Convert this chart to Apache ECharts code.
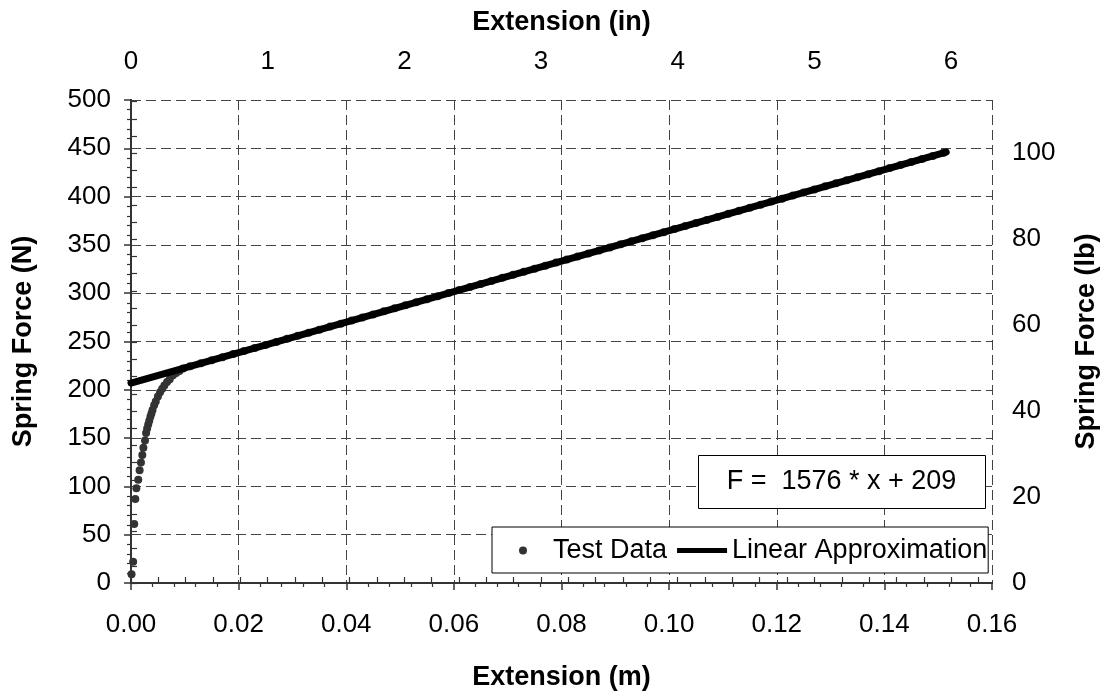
<!DOCTYPE html>
<html>
<head>
<meta charset="utf-8">
<script src="https://cdn.jsdelivr.net/npm/echarts@6/dist/echarts.min.js"></script>
<style>
html,body{margin:0;padding:0;background:#fff;}
#chart{width:1108px;height:696px;}
</style>
</head>
<body>
<div id="chart"></div>
<script>
// Test data: extension (m) and spring force (N)
const testExt = [
  0.0001, 0.0004, 0.0006, 0.0008, 0.0010, 0.00135, 0.0016, 0.00185, 0.0021, 0.0023, 0.0026, 0.0028,
  0.0030, 0.0032, 0.0034, 0.0036, 0.0038, 0.0040, 0.0043, 0.0046, 0.0050, 0.0054, 0.0058, 0.0062,
  0.0067, 0.0072, 0.0078, 0.0084, 0.0090, 0.0097,
  0.011, 0.013, 0.015, 0.017, 0.019, 0.021, 0.023, 0.025, 0.027, 0.029,
  0.031, 0.033, 0.035, 0.037, 0.039, 0.041, 0.043, 0.045, 0.047, 0.049,
  0.051, 0.053, 0.055, 0.057, 0.059, 0.061, 0.063, 0.065, 0.067, 0.069,
  0.071, 0.073, 0.075, 0.077, 0.079, 0.081, 0.083, 0.085, 0.087, 0.089,
  0.091, 0.093, 0.095, 0.097, 0.099, 0.101, 0.103, 0.105, 0.107, 0.109,
  0.111, 0.113, 0.115, 0.117, 0.119, 0.121, 0.123, 0.125, 0.127, 0.129,
  0.131, 0.133, 0.135, 0.137, 0.139, 0.141, 0.143, 0.145, 0.147, 0.149, 0.151
];
const testForce = [
  9, 22, 61, 87, 98, 107, 116.6, 124.8, 132.4, 139.9, 147.4, 155.3,
  160, 164, 168, 172, 175.5, 179, 184, 188, 193, 197.5, 201, 204.5,
  208, 211, 215, 217.5, 219.5, 222,
  224.4, 227.5, 230.7, 233.8, 237, 240.1, 243.3, 246.5, 249.6, 252.8,
  255.9, 259.1, 262.2, 265.4, 268.5, 271.7, 274.9, 278, 281.2, 284.3,
  287.5, 290.6, 293.8, 296.9, 300.1, 303.3, 306.4, 309.6, 312.7, 315.9,
  319, 322.2, 325.4, 328.5, 331.7, 334.8, 338, 341.1, 344.3, 347.4,
  350.6, 353.8, 356.9, 360.1, 363.2, 366.4, 369.5, 372.7, 375.8, 379,
  382.2, 385.3, 388.5, 391.6, 394.8, 397.9, 401.1, 404.3, 407.4, 410.6,
  413.7, 416.9, 420, 423.2, 426.3, 429.5, 432.7, 435.8, 439, 442.1, 445.3
];
// Linear approximation endpoints
const fitExt = [0, 0.1515];
const fitForce = [207, 446];

const seriesNames = ['Test Data', 'Linear Approximation'];
const equationText = 'F =  1576 * x + 209';
const xTitleBottom = 'Extension (m)';
const xTitleTop = 'Extension (in)';
const yTitleLeft = 'Spring Force (N)';
const yTitleRight = 'Spring Force (lb)';

const M_PER_IN = 0.0254;
const N_PER_LB = 4.44822;
const X_MAX = 0.16, Y_MAX = 500;

const FONT = "'Liberation Sans', Arial, Helvetica, sans-serif";
const AXIS_COLOR = '#333';

const chart = echarts.init(document.getElementById('chart'), null, {renderer: 'canvas'});

const axisLineStyle = {show: true, lineStyle: {color: AXIS_COLOR, width: 2}};
const labelStyle = {color: '#000', fontSize: 26, fontFamily: FONT};
const nameStyle = {color: '#000', fontSize: 27, fontWeight: 'bold', fontFamily: FONT};

const option = {
  animation: false,
  backgroundColor: '#fff',
  grid: {left: 131, top: 100, width: 864, height: 486, containLabel: false},
  xAxis: [
    {
      type: 'value', position: 'bottom', min: 0, max: X_MAX, interval: 0.02,
      name: xTitleBottom, nameLocation: 'middle', nameGap: 81, nameTextStyle: nameStyle,
      axisLine: axisLineStyle,
      axisTick: {show: true, inside: false, length: 7, lineStyle: {color: AXIS_COLOR, width: 1.5}},
      minorTick: {show: true, splitNumber: 5, length: 4, lineStyle: {color: AXIS_COLOR, width: 1.2}},
      axisLabel: {margin: 29, ...labelStyle, formatter: v => v.toFixed(2)},
      splitLine: {show: true, lineStyle: {color: '#444', width: 1, type: [10, 5]}}
    },
    {
      type: 'value', position: 'top', min: 0, max: X_MAX / M_PER_IN, interval: 0.2,
      name: xTitleTop, nameLocation: 'middle', nameGap: 64, nameTextStyle: nameStyle,
      axisLine: axisLineStyle,
      axisTick: {show: true, inside: false, length: 6, lineStyle: {color: AXIS_COLOR, width: 1.2}},
      axisLabel: {margin: 25, ...labelStyle, showMaxLabel: false,
        formatter: v => Math.abs(v - Math.round(v)) < 1e-6 ? String(Math.round(v)) : ''},
      splitLine: {show: false}
    }
  ],
  yAxis: [
    {
      type: 'value', position: 'left', min: 0, max: Y_MAX, interval: 50,
      name: yTitleLeft, nameLocation: 'middle', nameGap: 94, nameTextStyle: nameStyle,
      axisLine: axisLineStyle,
      axisTick: {show: true, inside: false, length: 7, lineStyle: {color: AXIS_COLOR, width: 1.5}},
      minorTick: {show: true, splitNumber: 5, length: 4, lineStyle: {color: AXIS_COLOR, width: 1.2}},
      axisLabel: {margin: 20, ...labelStyle},
      splitLine: {show: true, lineStyle: {color: '#444', width: 1, type: [10, 5]}}
    },
    {
      type: 'value', position: 'right', min: 0, max: Y_MAX / N_PER_LB, interval: 4,
      name: yTitleRight, nameLocation: 'middle', nameGap: 81, nameTextStyle: nameStyle,
      axisLine: axisLineStyle,
      axisTick: {show: true, inside: false, length: 6, lineStyle: {color: AXIS_COLOR, width: 1.2}},
      axisLabel: {margin: 20, ...labelStyle, showMaxLabel: false,
        formatter: v => (Math.abs(v % 20) < 1e-6 ? String(v) : '')},
      splitLine: {show: false}
    }
  ],
  legend: {
    left: 492, top: 527, orient: 'horizontal', z: 50,
    backgroundColor: '#fff', borderColor: '#000', borderWidth: 1,
    padding: [10, 1, 9, 27], itemGap: 10, itemWidth: 50, itemHeight: 8,
    textStyle: {color: '#000', fontSize: 27, fontFamily: FONT},
    data: [
      {name: seriesNames[0], icon: 'circle', itemStyle: {color: '#333'}},
      {name: seriesNames[1], icon: 'path://M0,0L50,0L50,5L0,5Z', itemStyle: {color: '#000'}}
    ]
  },
  series: [
    {
      name: seriesNames[0], type: 'scatter', xAxisIndex: 0, yAxisIndex: 0,
      symbol: 'circle', symbolSize: 8,
      itemStyle: {color: '#333', opacity: 1},
      data: testExt.map((x, i) => [x, testForce[i]]),
      z: 2
    },
    {
      name: seriesNames[1], type: 'line', xAxisIndex: 0, yAxisIndex: 0,
      showSymbol: false, symbol: 'none',
      lineStyle: {color: '#000', width: 7, cap: 'round'},
      itemStyle: {color: '#000'},
      data: fitExt.map((x, i) => [x, fitForce[i]]),
      z: 3
    }
  ],
  graphic: [
    {
      type: 'rect', left: 698, top: 455, z: 100,
      shape: {x: 0, y: 0, width: 287, height: 53},
      style: {fill: '#fff', stroke: '#000', lineWidth: 1}
    },
    {
      type: 'text', x: 841.5, y: 482, z: 101,
      style: {text: equationText, font: '27px ' + FONT, fill: '#000', align: 'center', verticalAlign: 'middle'}
    }
  ]
};
chart.setOption(option);
</script>
</body>
</html>
